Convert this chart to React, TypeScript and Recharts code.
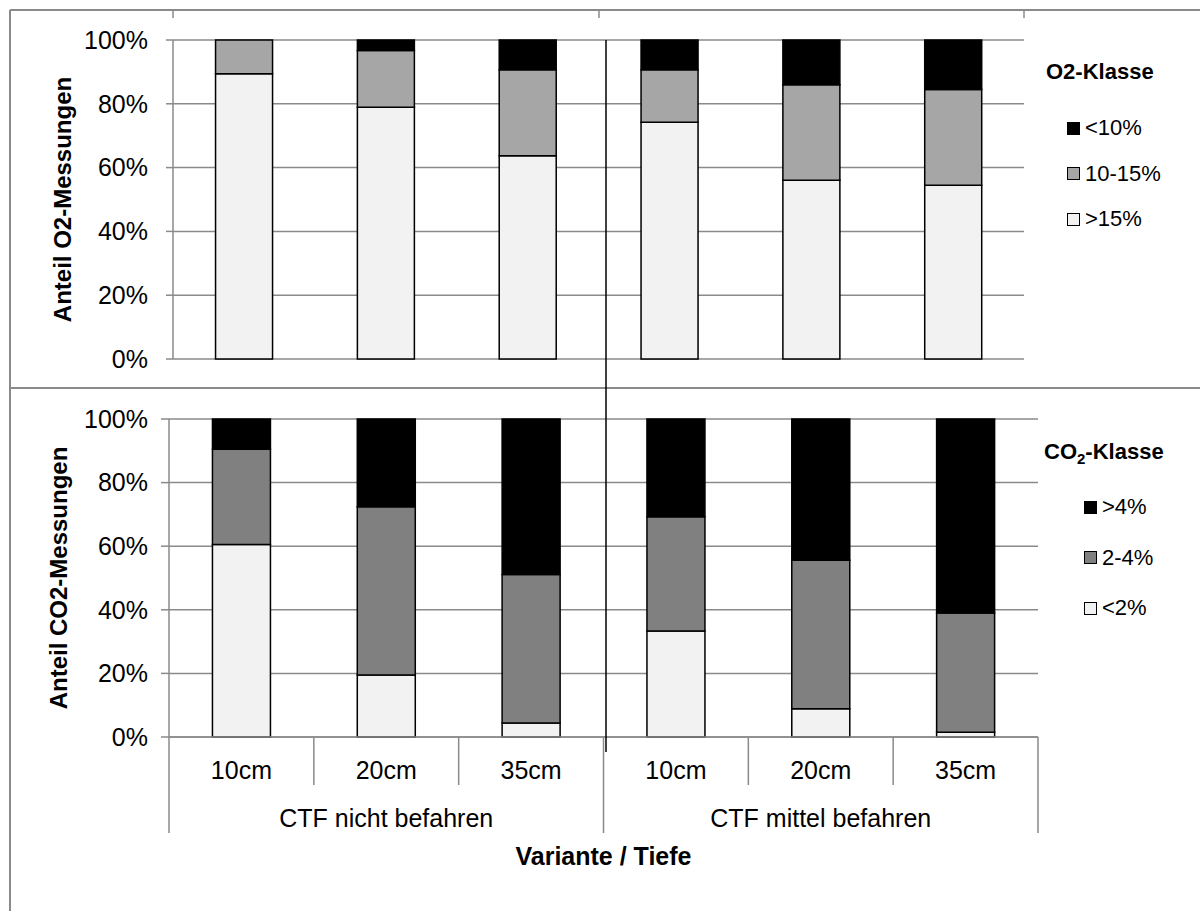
import React from 'react'
import { BarChart, Bar, XAxis, YAxis, CartesianGrid } from 'recharts'

const depths = ['10cm', '20cm', '35cm', '10cm', '20cm', '35cm']
const variants = [
  'CTF nicht befahren', 'CTF nicht befahren', 'CTF nicht befahren',
  'CTF mittel befahren', 'CTF mittel befahren', 'CTF mittel befahren',
]
const yTicks = [0, 20, 40, 60, 80, 100]

// O2 classes (share of measurements, %)
const o2Above15 = [89.4, 78.9, 63.7, 74.2, 56.0, 54.5]
const o2Mid = [10.6, 17.8, 27.0, 16.5, 30.0, 30.0]
const o2Below10 = [0, 3.3, 9.3, 9.3, 14.0, 15.5]

// CO2 classes
const co2Below2 = [60.5, 19.5, 4.4, 33.3, 8.9, 1.5]
const co2Mid = [30.0, 52.9, 46.7, 36.0, 46.7, 37.5]
const co2Above4 = [9.5, 27.6, 48.9, 30.7, 44.4, 61.0]

const FONT = '"Liberation Sans", Arial, sans-serif'
const GRAY = '#8a8a8a'

const o2Series = [
  { key: 'above15', label: '>15%', fill: '#f2f2f2' },
  { key: 'mid', label: '10-15%', fill: '#a6a6a6' },
  { key: 'below10', label: '<10%', fill: '#000000' },
]
const co2Series = [
  { key: 'below2', label: '<2%', fill: '#f2f2f2' },
  { key: 'mid', label: '2-4%', fill: '#808080' },
  { key: 'above4', label: '>4%', fill: '#000000' },
]

const o2Data = depths.map((d, i) => ({
  depth: d,
  above15: o2Above15[i],
  mid: o2Mid[i],
  below10: o2Below10[i],
}))
const co2Data = depths.map((d, i) => ({
  depth: d,
  below2: co2Below2[i],
  mid: co2Mid[i],
  above4: co2Above4[i],
}))

const tickStyle = { fontSize: 25, fill: '#000', fontFamily: FONT }

function yTitle(text: string, dx: number) {
  return (props: any) => {
    const vb = props.viewBox || {}
    const cx = vb.x + dx
    const cy = vb.y + vb.height / 2
    return (
      <text
        x={cx}
        y={cy}
        transform={`rotate(-90, ${cx}, ${cy})`}
        textAnchor="middle"
        dominantBaseline="central"
        fontFamily={FONT}
        fontWeight="bold"
        fontSize={24}
        fill="#000"
      >
        {text}
      </text>
    )
  }
}

const DepthTick = (props: any) => {
  const { x, y, payload, index, width, visibleTicksCount } = props
  const count = visibleTicksCount || depths.length
  const band = width ? width / count : (payload.offset || 0) * 2
  const left = x - band / 2
  const right = x + band / 2
  const groupStart = index % 3 === 0
  return (
    <g>
      <line x1={left} x2={left} y1={y} y2={y + (groupStart ? 96 : 48)} stroke={GRAY} strokeWidth={1.5} />
      {index === count - 1 && (
        <line x1={right} x2={right} y1={y} y2={y + 96} stroke={GRAY} strokeWidth={1.5} />
      )}
      <text x={x} y={y + 42} textAnchor="middle" fontFamily={FONT} fontSize={25} fill="#000">
        {payload.value}
      </text>
      {index % 3 === 1 && (
        <text x={x} y={y + 90} textAnchor="middle" fontFamily={FONT} fontSize={25} fill="#000">
          {variants[index]}
        </text>
      )}
    </g>
  )
}

function LegendBox({ title, items, top, left, squareLeft, rowTop, rowGap }: any) {
  return (
    <div style={{ position: 'absolute', top, left, fontFamily: FONT, color: '#000' }}>
      <div style={{ fontWeight: 'bold', fontSize: 22, lineHeight: '24px', whiteSpace: 'nowrap' }}>{title}</div>
      {items.map((it: any, i: number) => (
        <div
          key={it.label}
          style={{
            position: 'absolute',
            top: rowTop + i * rowGap,
            left: squareLeft,
            display: 'flex',
            alignItems: 'center',
            whiteSpace: 'nowrap',
            fontSize: 22,
            lineHeight: '24px',
          }}
        >
          <span
            style={{
              display: 'inline-block',
              width: 11,
              height: 11,
              background: it.fill,
              border: '1px solid #000',
              marginRight: 5,
            }}
          />
          {it.label}
        </div>
      ))}
    </div>
  )
}

export default function App() {
  return (
    <div style={{ position: 'absolute', left: 0, top: 0, width: 1200, height: 911, background: '#fff', overflow: 'hidden' }}>
      <div style={{ position: 'absolute', left: 0, top: 0 }}>
        <BarChart width={1200} height={388} data={o2Data} margin={{ top: 40, right: 176, bottom: 29, left: 0 }} barCategoryGap="30%">
          <CartesianGrid vertical={false} stroke={GRAY} strokeWidth={1.5} />
          <XAxis dataKey="depth" hide />
          <YAxis
            width={173}
            domain={[0, 100]}
            ticks={yTicks}
            tickFormatter={(v: number) => `${v}%`}
            tick={tickStyle}
            axisLine={{ stroke: GRAY, strokeWidth: 1.5 }}
            tickLine={{ stroke: GRAY, strokeWidth: 1.5 }}
            tickSize={7}
            tickMargin={18}
            label={{ content: yTitle('Anteil O2-Messungen', 62) }}
          />
          {o2Series.map((s) => (
            <Bar key={s.key} dataKey={s.key} stackId="o2" fill={s.fill} stroke="#000" strokeWidth={1.5} isAnimationActive={false} />
          ))}
        </BarChart>
      </div>

      <div style={{ position: 'absolute', left: 0, top: 388 }}>
        <BarChart width={1200} height={523} data={co2Data} margin={{ top: 31, right: 162, bottom: 0, left: 0 }} barCategoryGap="30%">
          <CartesianGrid vertical={false} stroke={GRAY} strokeWidth={1.5} />
          <XAxis
            dataKey="depth"
            height={174}
            interval={0}
            tick={<DepthTick />}
            tickLine={false}
            tickSize={0}
            tickMargin={0}
            axisLine={{ stroke: GRAY, strokeWidth: 1.5 }}
            label={{
              value: 'Variante / Tiefe',
              position: 'insideBottom',
              offset: 46,
              style: { fontFamily: FONT, fontWeight: 'bold', fontSize: 25, fill: '#000' },
            }}
          />
          <YAxis
            width={169}
            domain={[0, 100]}
            ticks={yTicks}
            tickFormatter={(v: number) => `${v}%`}
            tick={tickStyle}
            axisLine={{ stroke: GRAY, strokeWidth: 1.5 }}
            tickLine={{ stroke: GRAY, strokeWidth: 1.5 }}
            tickSize={8}
            tickMargin={13}
            label={{ content: yTitle('Anteil CO2-Messungen', 58) }}
          />
          {co2Series.map((s) => (
            <Bar key={s.key} dataKey={s.key} stackId="co2" fill={s.fill} stroke="#000" strokeWidth={1.5} isAnimationActive={false} />
          ))}
        </BarChart>
      </div>

      <LegendBox
        title="O2-Klasse"
        items={[...o2Series].reverse()}
        top={60}
        left={1046}
        squareLeft={21}
        rowTop={56}
        rowGap={45.5}
      />
      <LegendBox
        title={<span>CO<sub style={{ fontSize: 15 }}>2</sub>-Klasse</span>}
        items={[...co2Series].reverse()}
        top={440}
        left={1044}
        squareLeft={40}
        rowTop={55}
        rowGap={50.5}
      />

      <svg width={1200} height={911} style={{ position: 'absolute', left: 0, top: 0, pointerEvents: 'none' }}>
        <line x1={10} x2={1200} y1={10} y2={10} stroke={GRAY} strokeWidth={2} />
        <line x1={10} x2={10} y1={10} y2={911} stroke={GRAY} strokeWidth={2} />
        <line x1={10} x2={1200} y1={388} y2={388} stroke={GRAY} strokeWidth={2} />
        {[173, 599, 1024].map((x) => (
          <line key={x} x1={x} x2={x} y1={10} y2={18} stroke={GRAY} strokeWidth={1.5} />
        ))}
        <line x1={606} x2={606} y1={40} y2={752} stroke="#000" strokeWidth={1.5} />
      </svg>
    </div>
  )
}
